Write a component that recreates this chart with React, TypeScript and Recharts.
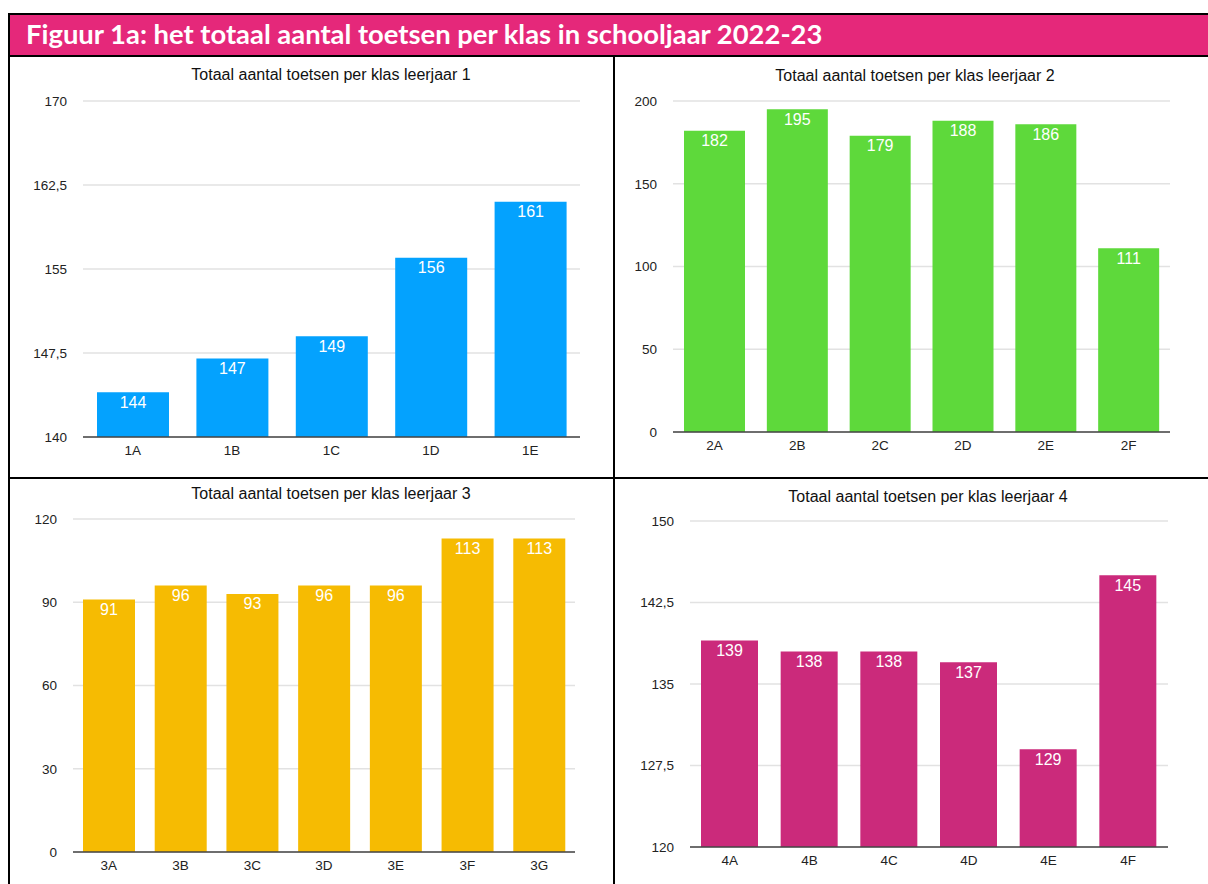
import React from "react";
import {
  BarChart,
  Bar,
  XAxis,
  YAxis,
  CartesianGrid,
  LabelList,
} from "recharts";

const klassen1 = ["1A", "1B", "1C", "1D", "1E"];
const toetsen1 = [144, 147, 149, 156, 161];
const ticks1 = [140, 147.5, 155, 162.5, 170];

const klassen2 = ["2A", "2B", "2C", "2D", "2E", "2F"];
const toetsen2 = [182, 195, 179, 188, 186, 111];
const ticks2 = [0, 50, 100, 150, 200];

const klassen3 = ["3A", "3B", "3C", "3D", "3E", "3F", "3G"];
const toetsen3 = [91, 96, 93, 96, 96, 113, 113];
const ticks3 = [0, 30, 60, 90, 120];

const klassen4 = ["4A", "4B", "4C", "4D", "4E", "4F"];
const toetsen4 = [139, 138, 138, 137, 129, 145];
const ticks4 = [120, 127.5, 135, 142.5, 150];

const FONT = '"Liberation Sans", Arial, Helvetica, sans-serif';

type PanelProps = {
  title: string;
  klassen: string[];
  waarden: number[];
  ticks: number[];
  color: string;
  left: number;
  top: number;
  width: number;
  height: number;
  titleX: number;
  titleY: number;
  margin: { top: number; right: number; bottom: number; left: number };
  yWidth: number;
  barSize: number;
};

function Panel(p: PanelProps) {
  const data = p.klassen.map((k, i) => ({ klas: k, aantal: p.waarden[i] }));
  const lo = p.ticks[0];
  const hi = p.ticks[p.ticks.length - 1];
  return (
    <>
      <div
        style={{
          position: "absolute",
          left: p.titleX - 250,
          top: p.titleY - 10,
          width: 500,
          textAlign: "center",
          fontFamily: FONT,
          fontSize: 16,
          lineHeight: "20px",
          color: "#111",
        }}
      >
        {p.title}
      </div>
      <div style={{ position: "absolute", left: p.left, top: p.top }}>
        <BarChart width={p.width} height={p.height} data={data} margin={p.margin}>
          <CartesianGrid vertical={false} stroke="#e2e2e2" strokeWidth={1.5} />
          <XAxis
            dataKey="klas"
            tickLine={false}
            axisLine={{ stroke: "#444", strokeWidth: 1.5 }}
            tick={{ fill: "#222", fontSize: 13.5, fontFamily: FONT }}
            tickMargin={2}
          />
          <YAxis
            width={p.yWidth}
            domain={[lo, hi]}
            ticks={p.ticks}
            tickLine={false}
            axisLine={false}
            tickSize={0}
            tickMargin={16}
            tick={{ fill: "#222", fontSize: 13.5, fontFamily: FONT }}
            tickFormatter={(v: number) => String(v).replace(".", ",")}
          />
          <Bar dataKey="aantal" fill={p.color} barSize={p.barSize} isAnimationActive={false}>
            <LabelList
              dataKey="aantal"
              position="insideTop"
              offset={4}
              fill="#fff"
              fontSize={16}
              fontFamily={FONT}
            />
          </Bar>
        </BarChart>
      </div>
    </>
  );
}

export default function App() {
  return (
    <div
      style={{
        position: "absolute",
        left: 0,
        top: 0,
        width: 1208,
        height: 884,
        background: "#fff",
        overflow: "hidden",
      }}
    >
      {/* kop */}
      <div
        style={{
          position: "absolute",
          left: 8,
          top: 13,
          width: 1200,
          height: 44,
          background: "#E5287A",
          borderTop: "2px solid #000",
          borderBottom: "2px solid #000",
          borderLeft: "2px solid #000",
          boxSizing: "border-box",
        }}
      />
      <div
        style={{
          position: "absolute",
          left: 26,
          top: 17,
          fontFamily: "Lato, 'Open Sans', sans-serif",
          fontWeight: 700,
          fontSize: 27.4,
          lineHeight: "34px",
          color: "#fff",
          whiteSpace: "nowrap",
        }}
      >
        Figuur 1a: het totaal aantal toetsen per klas in schooljaar 2022-23
      </div>
      {/* tabelranden */}
      <div style={{ position: "absolute", left: 8, top: 55, width: 2, height: 829, background: "#000" }} />
      <div style={{ position: "absolute", left: 613, top: 55, width: 2, height: 829, background: "#000" }} />
      <div style={{ position: "absolute", left: 8, top: 477, width: 1200, height: 2, background: "#000" }} />

      <Panel
        title="Totaal aantal toetsen per klas leerjaar 1"
        klassen={klassen1}
        waarden={toetsen1}
        ticks={ticks1}
        color="#04A2FE"
        left={8}
        top={57}
        width={606}
        height={410}
        titleX={331}
        titleY={75}
        margin={{ top: 44, right: 34, bottom: 0, left: 0 }}
        yWidth={75}
        barSize={72}
      />
      <Panel
        title="Totaal aantal toetsen per klas leerjaar 2"
        klassen={klassen2}
        waarden={toetsen2}
        ticks={ticks2}
        color="#5ED93B"
        left={614}
        top={57}
        width={594}
        height={405}
        titleX={915}
        titleY={76}
        margin={{ top: 44, right: 38, bottom: 0, left: 0 }}
        yWidth={59}
        barSize={61}
      />
      <Panel
        title="Totaal aantal toetsen per klas leerjaar 3"
        klassen={klassen3}
        waarden={toetsen3}
        ticks={ticks3}
        color="#F6BB02"
        left={8}
        top={479}
        width={606}
        height={403}
        titleX={331}
        titleY={494}
        margin={{ top: 40, right: 39, bottom: 0, left: 0 }}
        yWidth={65}
        barSize={52}
      />
      <Panel
        title="Totaal aantal toetsen per klas leerjaar 4"
        klassen={klassen4}
        waarden={toetsen4}
        ticks={ticks4}
        color="#CB2A7B"
        left={614}
        top={479}
        width={594}
        height={398}
        titleX={928}
        titleY={497}
        margin={{ top: 42, right: 40, bottom: 0, left: 0 }}
        yWidth={76}
        barSize={57}
      />
    </div>
  );
}
